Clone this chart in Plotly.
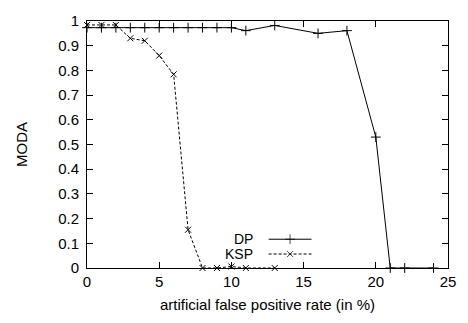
import plotly.graph_objects as go

dp_x = [0, 1, 2, 3, 4, 5, 6, 7, 8, 9, 10, 11, 13, 16, 18, 20, 21, 22, 24]
dp_y = [0.973, 0.973, 0.973, 0.973, 0.973, 0.973, 0.973, 0.973, 0.973, 0.973, 0.973,
        0.961, 0.982, 0.95, 0.961, 0.53, 0.0, 0.0, 0.0]

ksp_x = [0, 1, 2, 3, 4, 5, 6, 7, 8, 9, 10, 11, 13]
ksp_y = [0.984, 0.984, 0.984, 0.93, 0.92, 0.86, 0.784, 0.155, 0.0, 0.0, 0.006, 0.0, 0.0]

series_names = ["DP", "KSP"]
x_ticks = [0, 5, 10, 15, 20, 25]
y_ticks = [0, 0.1, 0.2, 0.3, 0.4, 0.5, 0.6, 0.7, 0.8, 0.9, 1]
x_title = "artificial false positive rate (in %)"
y_title = "MODA"

FONT = "Liberation Sans, Arial, Helvetica, sans-serif"

fig = go.Figure()
fig.add_trace(go.Scatter(
    x=dp_x, y=dp_y, mode="lines+markers", name=series_names[0],
    line=dict(color="black", width=1),
    marker=dict(symbol="cross-thin", size=7, line=dict(color="black", width=1)),
    showlegend=False, cliponaxis=False))
fig.add_trace(go.Scatter(
    x=ksp_x, y=ksp_y, mode="lines+markers", name=series_names[1],
    line=dict(color="black", width=1, dash="3px,2px"),
    marker=dict(symbol="x-thin", size=6, line=dict(color="black", width=1)),
    showlegend=False, cliponaxis=False))

# legend (gnuplot style: label on the left, sample on the right)
leg_text_x = 0.462
leg_x0, leg_x1, leg_xm = 0.503, 0.622, 0.5625
leg_rows = [0.1165, 0.0566]
for name, yy, sym, dash, ms in zip(series_names, leg_rows, ["cross-thin", "x-thin"],
                                   ["solid", "3px,2px"], [7, 6]):
    fig.add_trace(go.Scatter(
        x=[leg_x0, leg_xm, leg_x1], y=[yy, yy, yy], xaxis="x2", yaxis="y2",
        mode="lines+markers",
        line=dict(color="black", width=1, dash=dash),
        marker=dict(symbol=sym, size=[0, ms, 0], line=dict(color="black", width=1)),
        showlegend=False, hoverinfo="skip"))
    fig.add_annotation(x=leg_text_x, y=yy, xref="paper", yref="paper", text=name,
                       showarrow=False, xanchor="right", yanchor="middle",
                       borderpad=0,
                       font=dict(family=FONT, size=14, color="black"))

fig.update_layout(
    width=468, height=323,
    margin=dict(l=87, r=13, t=14, b=53),
    plot_bgcolor="white", paper_bgcolor="white",
    font=dict(family=FONT, size=15, color="black"),
    xaxis=dict(range=[0, 25], tickvals=x_ticks, ticks="inside", ticklen=6,
               tickcolor="black", showline=True, linecolor="black", linewidth=1,
               mirror="allticks", showgrid=False, zeroline=False,
               title=dict(text=x_title, font=dict(size=15), standoff=10)),
    yaxis=dict(range=[0, 1], tickvals=y_ticks, ticktext=[f"{v:g}" for v in y_ticks],
               ticks="inside", ticklen=6, tickcolor="black", showline=True,
               linecolor="black", linewidth=1, mirror="allticks", showgrid=False,
               zeroline=False, ticklabelstandoff=4,
               title=dict(text=y_title, font=dict(size=15), standoff=26)),
    xaxis2=dict(range=[0, 1], overlaying="x", visible=False),
    yaxis2=dict(range=[0, 1], overlaying="y", visible=False),
)

fig.write_html("out.html", config={"displayModeBar": False},
               post_script="document.body.style.margin='0';")
